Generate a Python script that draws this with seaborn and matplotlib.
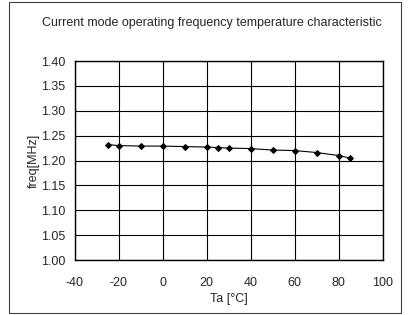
import numpy as np
import pandas as pd
import seaborn as sns
import matplotlib.pyplot as plt
from matplotlib.patches import Rectangle

# Data
temperature = [-25, -20, -10, 0, 10, 20, 25, 30, 40, 50, 60, 70, 80, 85]
frequency = [1.232, 1.230, 1.229, 1.229, 1.228, 1.227, 1.226, 1.225,
             1.224, 1.221, 1.220, 1.216, 1.210, 1.205]
x_ticks = [-40, -20, 0, 20, 40, 60, 80, 100]
y_ticks = [1.00, 1.05, 1.10, 1.15, 1.20, 1.25, 1.30, 1.35, 1.40]

df = pd.DataFrame({'Ta': temperature, 'freq': frequency})

sns.set_style('white')
plt.rcParams['font.family'] = ['Liberation Sans', 'DejaVu Sans']
fs = 9

fig = plt.figure(figsize=(4.09, 3.15), dpi=100)
ax = fig.add_axes([0.1826, 0.1746, 0.7531, 0.6317])

sns.lineplot(data=df, x='Ta', y='freq', ax=ax, color='black',
             linewidth=0.8, marker='D', markersize=3,
             markeredgecolor='black', markerfacecolor='black')

ax.set_xlim(-40, 100)
ax.set_ylim(1.00, 1.40)
ax.set_xticks(x_ticks)
ax.set_yticks(y_ticks)
ax.set_xticklabels([str(v) for v in x_ticks])
ax.set_yticklabels([f'{v:.2f}' for v in y_ticks])
ax.grid(True, color='black', linewidth=0.8)
for s in ax.spines.values():
    s.set_color('black')
    s.set_linewidth(1.0)
ax.tick_params(axis='y', length=5, width=0.8, color='black', pad=1.5, labelsize=fs)
ax.tick_params(axis='x', length=0, pad=12, labelsize=fs)

ax.set_xlabel('Ta [°C]', fontsize=fs, labelpad=3)
ax.set_ylabel('freq[MHz]', fontsize=fs, labelpad=1)
fig.text(0.517, 0.928, 'Current mode operating frequency temperature characteristic',
         ha='center', va='center', fontsize=fs)

# outer frame around the chart area
fig.patches.append(Rectangle((9 / 409, 2 / 315), 392 / 409, 311 / 315,
                             transform=fig.transFigure, fill=False,
                             edgecolor='#404040', linewidth=0.8))

plt.savefig('out.png', dpi=100)
